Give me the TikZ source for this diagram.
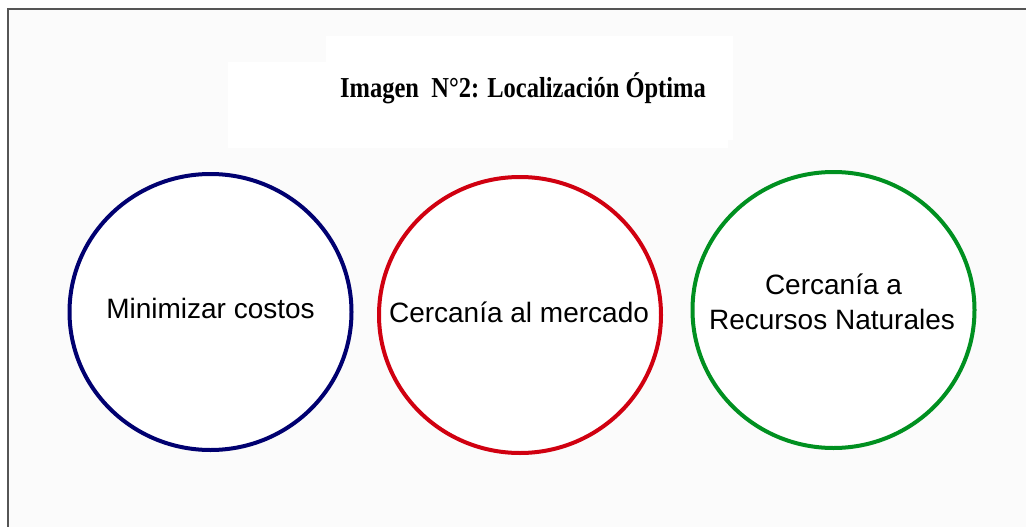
\documentclass[tikz,border=0pt]{standalone}
\usepackage{fontspec}
\setmainfont{Liberation Serif}
\setsansfont{Liberation Sans}
\definecolor{bgc}{HTML}{FBFBFB}
\definecolor{framec}{HTML}{555555}
\definecolor{navyc}{HTML}{000070}
\definecolor{redc}{HTML}{D00010}
\definecolor{greenc}{HTML}{009020}
\tikzset{
  ring/.style={line width=4pt},
  lbl/.style={font=\sffamily\fontsize{28}{34}\selectfont, align=center, text=black, inner sep=0pt},
}
\begin{document}
\begin{tikzpicture}[x=1pt,y=-1pt]
\useasboundingbox (0,0) rectangle (1026,527);
\fill[white] (0,0) rectangle (1026,527);
\fill[bgc] (8,9) rectangle (1026,527);
\draw[framec, line width=1.2pt] (8,527) -- (8,9) -- (1026,9);
% title white boxes
\fill[white] (326,36) rectangle (733,140);
\fill[white] (228,62) rectangle (728,148);
\node[font=\bfseries\fontsize{24.5}{28}\selectfont, inner sep=0pt, anchor=base] (title) at (523,97) {\scalebox{1}[1.18]{Imagen\ \ N°2: Localización Óptima}};
% circles
\draw[ring, navyc, fill=white] (210.5,312) ellipse [x radius=141, y radius=138];
\draw[ring, redc, fill=white] (520,315) ellipse [x radius=141, y radius=138];
\draw[ring, greenc, fill=white] (833.5,310) ellipse [x radius=141, y radius=138];
\node[lbl, anchor=base] (c1) at (210.5,318) {Minimizar costos};
\node[lbl, anchor=base] (c2) at (519,322) {Cercanía al mercado};
\node[lbl, anchor=base] (c3a) at (833.5,294) {Cercanía a};
\node[lbl, anchor=base] (c3b) at (832,329) {Recursos Naturales};
\end{tikzpicture}
\end{document}
